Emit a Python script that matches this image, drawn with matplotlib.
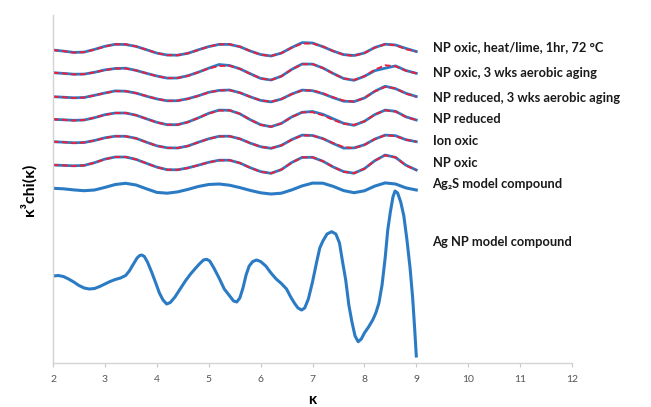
import matplotlib
matplotlib.use("Agg")
import matplotlib.pyplot as plt

plt.rcParams['font.family'] = ['Lato', 'DejaVu Sans']

# ================= data =================
k = [2.0, 2.2, 2.4, 2.6, 2.8, 3.0, 3.2, 3.4, 3.6, 3.8, 4.0, 4.2,
     4.4, 4.6, 4.8, 5.0, 5.2, 5.4, 5.6, 5.8, 6.0, 6.2, 6.4, 6.6,
     6.8, 7.0, 7.2, 7.4, 7.6, 7.8, 8.0, 8.2, 8.4, 8.6, 8.8, 9.0]

labels = ['NP oxic, heat/lime, 1hr, 72 °C',
          'NP oxic, 3 wks aerobic aging',
          'NP reduced, 3 wks aerobic aging',
          'NP reduced',
          'Ion oxic',
          'NP oxic']

# fitted curves (red dashed)
fit_heat = [0, -0.11, -0.26, -0.21, 0.04, 0.35, 0.57, 0.57, 0.36, 0.03, -0.31, -0.52,
            -0.52, -0.33, 0.0, 0.34, 0.56, 0.58, 0.33, -0.10, -0.47, -0.60, -0.31, 0.23,
            0.65, 0.65, 0.35, -0.11, -0.48, -0.59, -0.30, 0.23, 0.58, 0.48, 0.08, -0.15]
fit_oxic_3wk = [0, -0.07, -0.17, -0.14, 0.04, 0.26, 0.42, 0.42, 0.23, -0.06, -0.35, -0.54,
                -0.53, -0.32, 0.05, 0.43, 0.67, 0.70, 0.39, -0.12, -0.57, -0.73, -0.37, 0.33,
                0.85, 0.86, 0.47, -0.10, -0.58, -0.72, -0.36, 0.30, 0.74, 0.64, 0.19, -0.06]
fit_red_3wk = [0, -0.05, -0.13, -0.08, 0.12, 0.37, 0.55, 0.55, 0.36, 0.07, -0.22, -0.41,
               -0.40, -0.22, 0.09, 0.42, 0.63, 0.65, 0.40, -0.01, -0.37, -0.50, -0.24, 0.25,
               0.62, 0.63, 0.35, -0.06, -0.39, -0.49, -0.13, 0.54, 0.97, 0.84, 0.30, 0]
fit_reduced = [0, -0.05, -0.12, -0.07, 0.16, 0.44, 0.63, 0.63, 0.41, 0.05, -0.32, -0.54,
               -0.54, -0.29, 0.14, 0.58, 0.87, 0.90, 0.55, -0.04, -0.56, -0.74, -0.41, 0.22,
               0.70, 0.71, 0.40, -0.06, -0.45, -0.56, -0.20, 0.47, 0.90, 0.77, 0.23, -0.07]
fit_ion = [0, -0.05, -0.13, -0.08, 0.12, 0.37, 0.55, 0.54, 0.32, -0.05, -0.41, -0.63,
           -0.63, -0.43, -0.07, 0.29, 0.52, 0.55, 0.29, -0.14, -0.52, -0.66, -0.37, 0.19,
           0.62, 0.62, 0.31, -0.15, -0.54, -0.65, -0.33, 0.26, 0.64, 0.56, 0.20, 0]
fit_oxic = [0, -0.04, -0.10, -0.04, 0.23, 0.57, 0.80, 0.80, 0.56, 0.17, -0.23, -0.47,
            -0.48, -0.31, -0.02, 0.27, 0.46, 0.48, 0.20, -0.27, -0.68, -0.83, -0.46, 0.23,
            0.76, 0.77, 0.38, -0.20, -0.68, -0.82, -0.37, 0.43, 0.96, 0.76, -0.05, -0.50]

# measured data (blue solid)
dat_heat = [0, -0.11, -0.24, -0.21, 0.06, 0.37, 0.57, 0.55, 0.36, 0.03, -0.31, -0.50,
            -0.52, -0.33, 0.02, 0.34, 0.56, 0.56, 0.33, -0.10, -0.45, -0.60, -0.31, 0.25,
            0.74, 0.70, 0.33, -0.11, -0.46, -0.55, -0.30, 0.25, 0.58, 0.50, 0.16, -0.15]
dat_oxic_3wk = [0, -0.07, -0.15, -0.14, 0.04, 0.28, 0.42, 0.45, 0.23, -0.06, -0.33, -0.54,
                -0.53, -0.30, 0.05, 0.45, 0.82, 0.72, 0.39, -0.10, -0.57, -0.73, -0.35, 0.33,
                0.87, 0.86, 0.47, -0.08, -0.58, -0.76, -0.36, 0.20, 0.45, 0.68, 0.22, -0.06]
dat_red_3wk = [0, -0.05, -0.11, -0.08, 0.14, 0.37, 0.58, 0.55, 0.36, 0.05, -0.22, -0.41,
               -0.40, -0.20, 0.09, 0.44, 0.63, 0.67, 0.40, -0.01, -0.37, -0.52, -0.24, 0.27,
               0.66, 0.60, 0.30, -0.10, -0.45, -0.49, -0.13, 0.54, 1.05, 0.80, 0.34, 0.02]
dat_reduced = [0, -0.05, -0.10, -0.07, 0.16, 0.46, 0.63, 0.63, 0.41, 0.05, -0.30, -0.54,
               -0.54, -0.27, 0.14, 0.60, 0.92, 0.90, 0.55, -0.04, -0.54, -0.74, -0.41, 0.24,
               0.70, 0.78, 0.50, 0.05, -0.40, -0.60, -0.20, 0.47, 0.92, 0.80, 0.25, -0.07]
dat_ion = [0, -0.05, -0.11, -0.08, 0.12, 0.39, 0.55, 0.54, 0.34, -0.05, -0.41, -0.61,
           -0.63, -0.43, -0.05, 0.29, 0.54, 0.55, 0.29, -0.14, -0.50, -0.66, -0.37, 0.21,
           0.66, 0.62, 0.31, -0.18, -0.64, -0.62, -0.31, 0.26, 0.66, 0.60, 0.20, 0]
dat_oxic = [0, -0.04, -0.08, -0.04, 0.23, 0.59, 0.80, 0.80, 0.56, 0.17, -0.21, -0.47,
            -0.48, -0.29, -0.02, 0.27, 0.48, 0.48, 0.20, -0.27, -0.66, -0.83, -0.46, 0.25,
            0.76, 0.77, 0.38, -0.20, -0.66, -0.82, -0.37, 0.43, 1.00, 0.76, -0.02, -0.50]

# Ag2S model compound
ag2s = [0, -0.05, -0.16, -0.24, -0.17, 0.09, 0.38, 0.50, 0.33, -0.05, -0.41, -0.49,
        -0.36, -0.11, 0.18, 0.38, 0.43, 0.31, 0.07, -0.21, -0.45, -0.57, -0.49, -0.16,
        0.24, 0.52, 0.51, 0.19, -0.23, -0.44, -0.25, 0.22, 0.54, 0.43, 0.04, -0.17]

# Ag NP model compound
k_agnp = [2.0, 2.1, 2.2, 2.3, 2.4, 2.5, 2.6, 2.7, 2.8, 2.9, 3.0, 3.1,
          3.2, 3.3, 3.4, 3.47, 3.55, 3.62, 3.67, 3.71, 3.76, 3.82, 3.9, 3.98,
          4.05, 4.12, 4.19, 4.26, 4.35, 4.45, 4.55, 4.65, 4.75, 4.82, 4.9, 4.96,
          5.02, 5.1, 5.2, 5.3, 5.42, 5.48, 5.54, 5.6, 5.66, 5.72, 5.78, 5.85,
          5.92, 6.0, 6.1, 6.2, 6.3, 6.4, 6.5, 6.58, 6.65, 6.72, 6.79, 6.85,
          6.92, 7.0, 7.08, 7.14, 7.2, 7.28, 7.37, 7.45, 7.52, 7.58, 7.64, 7.7,
          7.76, 7.82, 7.88, 7.94, 8.0, 8.08, 8.16, 8.22, 8.28, 8.34, 8.4, 8.45,
          8.5, 8.55, 8.59, 8.64, 8.7, 8.76, 8.82, 8.88, 8.93, 8.97, 9.0]
agnp = [0, 0.05, -0.05, -0.3, -0.6, -0.95, -1.2, -1.3, -1.25, -1.05, -0.8, -0.55,
        -0.35, -0.2, 0.05, 0.5, 1.2, 1.8, 2.05, 2.1, 1.95, 1.4, 0.4, -0.7,
        -1.7, -2.4, -2.8, -2.65, -2.1, -1.3, -0.5, 0.2, 0.8, 1.2, 1.6, 1.67,
        1.5, 0.8, -0.2, -1.3, -2.1, -2.5, -2.6, -2.2, -1.2, 0.1, 1.0, 1.45,
        1.6, 1.45, 1.0, 0.3, -0.3, -0.75, -1.3, -2.1, -2.7, -3.2, -3.4, -3.2,
        -2.3, -0.6, 1.4, 2.8, 3.5, 4.2, 4.43, 4.2, 3.3, 1.4, -0.4, -2.9,
        -4.6, -6.0, -6.57, -6.3, -5.7, -5.1, -4.4, -3.7, -2.7, -0.9, 1.8, 4.6,
        6.4, 7.9, 8.5, 8.3, 7.4, 6.0, 3.6, 0.8, -2.2, -5.4, -8.0]

# ================= layout / style =================
offsets = [31.30, 29.03, 26.63, 24.37, 22.13, 19.80]
offset_ag2s = 17.47
offset_agnp = 8.70
label_y = [31.6, 29.0, 26.5, 24.4, 22.2, 20.0]

BLUE = '#2b7bc4'
RED = '#e8203f'

fig = plt.figure(figsize=(6.51, 4.07), dpi=100)
ax = fig.add_axes([53 / 651, 44 / 407, 519 / 651, 348 / 407])

fits = [fit_heat, fit_oxic_3wk, fit_red_3wk, fit_reduced, fit_ion, fit_oxic]
data = [dat_heat, dat_oxic_3wk, dat_red_3wk, dat_reduced, dat_ion, dat_oxic]

for d, f, off in zip(data, fits, offsets):
    ax.plot(k, [v + off for v in d], color=BLUE, lw=2.0, solid_joinstyle='round')
    ax.plot(k, [v + off for v in f], color=RED, lw=1.4, ls=(0, (3, 1.6)))

ax.plot(k, [v + offset_ag2s for v in ag2s], color=BLUE, lw=2.2, solid_joinstyle='round')
ax.plot(k_agnp, [v + offset_agnp for v in agnp], color=BLUE, lw=2.2,
        solid_joinstyle='round')

txt = dict(fontsize=9.3, fontweight='bold', color='#1a1a1a', va='center', ha='left',
           clip_on=False)
for lab, y in zip(labels, label_y):
    ax.text(9.32, y, lab, **txt)
ax.text(9.30, 17.9, 'Ag₂S model compound', **txt)
ax.text(9.30, 12.1, 'Ag NP model compound', **txt)

ax.set_xlim(2, 12)
ax.set_ylim(0, 34.8)
ax.set_xticks(range(2, 13))
ax.set_yticks([])
ax.tick_params(axis='x', length=3, color='#c8c8c8', labelsize=7.5, labelcolor='#555555', pad=6)
for s in ['top', 'right']:
    ax.spines[s].set_visible(False)
for s in ['left', 'bottom']:
    ax.spines[s].set_color('#d4d4d4')
    ax.spines[s].set_linewidth(1.0)

ax.set_xlabel('κ', fontsize=11, fontweight='bold', labelpad=6)
fig.text(28 / 651, 1 - 190 / 407, 'κ³chi(κ)', rotation=90, fontsize=11.5,
         fontweight='bold', ha='center', va='center')

fig.savefig('out.png', dpi=100)
